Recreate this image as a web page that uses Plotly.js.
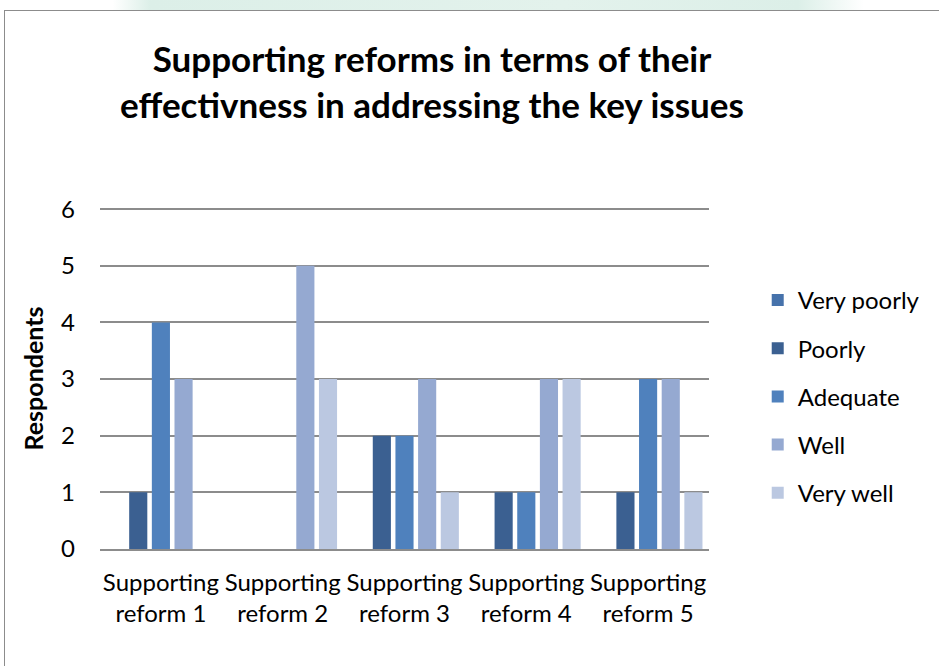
<!DOCTYPE html>
<html>
<head>
<meta charset="utf-8">
<script src="https://cdn.plot.ly/plotly-3.0.1.min.js"></script>
<style>
  html, body { margin: 0; padding: 0; background: #ffffff; }
  #wrap { position: relative; width: 939px; height: 666px; overflow: hidden; }
  #strip { position: absolute; left: 0; top: 0; width: 939px; height: 10px;
           background: linear-gradient(90deg, #ffffff 0%, #ffffff 12%, #dcefe8 16%, #e3f2ec 60%, #dcefe8 85%, #ffffff 92%); }
  #frame { position: absolute; left: 4px; top: 10px; width: 945px; height: 670px;
           border: 1.5px solid #8c8c8c; box-sizing: border-box; pointer-events: none; }
  #chart { position: absolute; left: 0; top: 0; width: 939px; height: 666px; }
</style>
</head>
<body>
<div id="wrap">
  <div id="strip"></div>
  <div id="chart"></div>
  <div id="frame"></div>
</div>
<script>
const categories = ["Supporting<br>reform 1", "Supporting<br>reform 2", "Supporting<br>reform 3", "Supporting<br>reform 4", "Supporting<br>reform 5"];
const seriesNames = ["Very poorly", "Poorly", "Adequate", "Well", "Very well"];
const veryPoorly = [0, 0, 0, 0, 0];
const poorly     = [1, 0, 2, 1, 1];
const adequate   = [4, 0, 2, 1, 3];
const well       = [3, 5, 3, 3, 3];
const veryWell   = [0, 3, 1, 3, 1];
const seriesColors = ["#4672AB", "#3B6091", "#4F81BD", "#95A9D1", "#BBC8E1"];
const yTicks = [0, 1, 2, 3, 4, 5, 6];

const values = [veryPoorly, poorly, adequate, well, veryWell];
const traces = values.map((v, i) => ({
  type: "bar",
  name: seriesNames[i],
  x: categories,
  y: v,
  marker: { color: seriesColors[i] },
  legendgroup: "g" + i,
  hoverinfo: "x+y+name"
}));

const fontFam = "Lato, 'Open Sans', sans-serif";
const layout = {
  width: 939,
  height: 666,
  paper_bgcolor: "rgba(0,0,0,0)",
  plot_bgcolor: "rgba(0,0,0,0)",
  margin: { l: 100, r: 230, t: 208, b: 117 },
  barmode: "group",
  bargap: 0.07,
  bargroupgap: 0.2,
  font: { family: fontFam, color: "#000000", size: 24 },
  title: {
    text: "<b>Supporting reforms in terms of their<br>effectivness in addressing the key issues</b>",
    font: { family: fontFam, size: 35, color: "#000000" },
    x: 432 / 939,
    xanchor: "center",
    xref: "container",
    y: 1 - 72 / 666,
    yanchor: "middle",
    yref: "container"
  },
  xaxis: {
    type: "category",
    showgrid: false,
    showline: true,
    linecolor: "#8c8c8c",
    linewidth: 2,
    ticks: "",
    tickfont: { family: fontFam, size: 24, color: "#000000" },
    ticklabelstandoff: 11,
    fixedrange: true
  },
  yaxis: {
    range: [0, 6.02],
    tickvals: yTicks,
    ticktext: yTicks.map(String),
    showgrid: true,
    gridcolor: "#8c8c8c",
    gridwidth: 2,
    zeroline: false,
    showline: false,
    ticks: "",
    tickfont: { family: fontFam, size: 24, color: "#000000" },
    ticklabelstandoff: 24,
    title: { text: "<b>Respondents</b>", font: { family: fontFam, size: 25, color: "#000000" }, standoff: 10 },
    fixedrange: true
  },
  legend: {
    x: 1.08,
    xanchor: "left",
    y: 0.795,
    yanchor: "top",
    traceorder: "grouped",
    tracegroupgap: 14,
    font: { family: fontFam, size: 24, color: "#000000" },
    bgcolor: "rgba(0,0,0,0)",
    itemclick: false,
    itemdoubleclick: false
  },
  showlegend: true
};

Plotly.newPlot("chart", traces, layout, { displayModeBar: false, staticPlot: false });
</script>
</body>
</html>
